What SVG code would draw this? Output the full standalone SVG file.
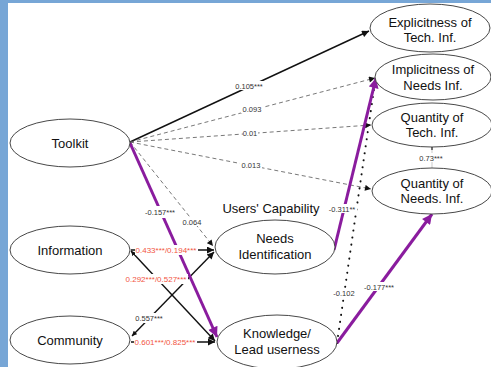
<svg xmlns="http://www.w3.org/2000/svg" width="491" height="367" viewBox="0 0 491 367">
  <style>
    .node ellipse { fill: #ffffff; stroke: #333333; stroke-width: 0.9; }
    .node text { font-family: "Liberation Sans", Arial, sans-serif; font-size: 13px; fill: #111111; text-anchor: middle; }
    .solid { fill: none; stroke: #111111; stroke-width: 1.4; }
    .dash { fill: none; stroke: #555555; stroke-width: 0.8; stroke-dasharray: 4 3; }
    .dot { fill: none; stroke: #111111; stroke-width: 2; stroke-dasharray: 0.1 7; stroke-linecap: round; }
    .purple { fill: none; stroke: #8a1c9e; stroke-width: 3; }
    .lbl rect { fill: #ffffff; }
    .lbl text { font-family: "Liberation Sans", Arial, sans-serif; font-size: 7.5px; fill: #333333; text-anchor: middle; }
    .lbl.red text { fill: #f2553f; font-size: 8px; }
    .title { font-family: "Liberation Sans", Arial, sans-serif; font-size: 13px; fill: #111111; text-anchor: middle; }
  </style>
  <defs>
    <marker id="arrow" viewBox="0 0 10 10" refX="10" refY="5" markerWidth="9" markerHeight="7" markerUnits="userSpaceOnUse" orient="auto">
      <path d="M0,0 L10,5 L0,10 z" fill="#111111"/>
    </marker>
    <marker id="arrowSmall" viewBox="0 0 10 10" refX="10" refY="5" markerWidth="7" markerHeight="6" markerUnits="userSpaceOnUse" orient="auto">
      <path d="M0,0 L10,5 L0,10 z" fill="#111111"/>
    </marker>
    <marker id="arrowTiny" viewBox="0 0 10 10" refX="10" refY="5" markerWidth="5" markerHeight="5" markerUnits="userSpaceOnUse" orient="auto-start-reverse">
      <path d="M0,0 L10,5 L0,10 z" fill="#111111"/>
    </marker>
    <marker id="arrowPurple" viewBox="0 0 10 10" refX="10" refY="5" markerWidth="13" markerHeight="10" markerUnits="userSpaceOnUse" orient="auto">
      <path d="M0,0 L10,5 L0,10 z" fill="#8a1c9e"/>
    </marker>
  </defs>

  <!-- page frame -->
  <rect x="0" y="0" width="491" height="367" fill="#ffffff"/>
  <rect x="0" y="0" width="491" height="3" fill="#77a6d6"/>
  <rect x="0" y="0" width="8" height="367" fill="#77a6d6"/>

  <!-- connectors -->
  <g id="connectors">
    <line class="solid" x1="130" y1="142" x2="369" y2="31" marker-end="url(#arrow)"/>
    <line class="dash" x1="130" y1="142" x2="375" y2="78" marker-end="url(#arrowSmall)"/>
    <line class="dash" x1="130" y1="142" x2="371" y2="125" marker-end="url(#arrowSmall)"/>
    <line class="dash" x1="130" y1="142" x2="371" y2="189" marker-end="url(#arrowSmall)"/>
    <line class="dash" x1="130" y1="142" x2="213" y2="246" marker-end="url(#arrowSmall)"/>

    <line class="solid" x1="131" y1="250" x2="214" y2="250" marker-end="url(#arrow)"/>
    <line class="solid" x1="131" y1="251" x2="215" y2="341" marker-start="url(#arrowTiny)" marker-end="url(#arrow)"/>
    <line class="solid" x1="132" y1="336" x2="214" y2="252" marker-start="url(#arrowTiny)" marker-end="url(#arrow)"/>
    <line class="solid" x1="131" y1="342" x2="215" y2="342" marker-end="url(#arrow)"/>

    <line class="purple" x1="130" y1="143" x2="217" y2="337" marker-end="url(#arrowPurple)"/>
    <line class="dot" x1="337" y1="343" x2="375" y2="82"/>
    <line class="purple" x1="334" y1="250" x2="376" y2="78" marker-end="url(#arrowPurple)"/>
    <line class="purple" x1="337" y1="343" x2="432" y2="214" marker-end="url(#arrowPurple)"/>

    <line x1="432" y1="147" x2="432" y2="168" stroke="#aaaaaa" stroke-width="0.6"/>
    <line x1="432" y1="147" x2="432" y2="150" stroke="#222222" stroke-width="1.2"/>
  </g>

  <!-- path coefficients -->
  <g id="labels">
    <g class="lbl"><rect x="233" y="81" width="32" height="9"/><text x="249" y="88.5">0.105***</text></g>
    <g class="lbl"><rect x="241" y="104" width="22" height="9"/><text x="252" y="111.5">0.093</text></g>
    <g class="lbl"><rect x="243" y="128" width="15" height="9"/><text x="250" y="135.5">0.01</text></g>
    <g class="lbl"><rect x="240" y="160" width="22" height="9"/><text x="251" y="167.5">0.013</text></g>
    <g class="lbl"><rect x="143" y="206" width="34" height="12"/><text x="160" y="215">-0.157***</text></g>
    <g class="lbl"><rect x="182" y="217" width="21" height="9"/><text x="192" y="224.5">0.064</text></g>
    <g class="lbl red"><rect x="135" y="245" width="63" height="10"/><text x="166" y="253">0.433***/0.194***</text></g>
    <g class="lbl red"><rect x="125" y="274" width="63" height="10"/><text x="156" y="282">0.292***/0.527***</text></g>
    <g class="lbl"><rect x="134" y="313" width="31" height="10"/><text x="149" y="320.5">0.557***</text></g>
    <g class="lbl red"><rect x="134" y="337" width="63" height="10"/><text x="165" y="345">0.601***/0.825***</text></g>
    <g class="lbl"><rect x="328" y="204" width="29" height="9"/><text x="342" y="211.5">-0.311**</text></g>
    <g class="lbl"><rect x="333" y="288" width="23" height="9"/><text x="344" y="295.5">-0.102</text></g>
    <g class="lbl"><rect x="363" y="282" width="33" height="9"/><text x="379" y="289.5">-0.177***</text></g>
    <g class="lbl"><rect x="421" y="153" width="22" height="9"/><text x="431" y="160.5">0.73***</text></g>
  </g>

  <text class="title" x="271" y="213">Users' Capability</text>

  <!-- exogenous constructs -->
  <g id="toolkit" class="node">
    <ellipse cx="70" cy="143" rx="60" ry="24"/>
    <text x="70" y="147.5">Toolkit</text>
  </g>
  <g id="information" class="node">
    <ellipse cx="70" cy="250" rx="60" ry="24"/>
    <text x="70" y="254.5">Information</text>
  </g>
  <g id="community" class="node">
    <ellipse cx="70" cy="340" rx="60" ry="24"/>
    <text x="70" y="344.5">Community</text>
  </g>

  <!-- users' capability -->
  <g id="needs-identification" class="node">
    <ellipse cx="275" cy="247" rx="60" ry="27"/>
    <text x="275" y="243">Needs</text>
    <text x="275" y="259">Identification</text>
  </g>
  <g id="knowledge" class="node">
    <ellipse cx="277" cy="342" rx="60" ry="27"/>
    <text x="277" y="338">Knowledge/</text>
    <text x="277" y="354">Lead userness</text>
  </g>

  <!-- outcome constructs -->
  <g id="explicitness" class="node">
    <ellipse cx="430" cy="28" rx="60" ry="24"/>
    <text x="430" y="26.5">Explicitness of</text>
    <text x="430" y="42">Tech. Inf.</text>
  </g>
  <g id="implicitness" class="node">
    <ellipse cx="433" cy="77" rx="58" ry="23"/>
    <text x="433" y="74">Implicitness of</text>
    <text x="433" y="89.5">Needs Inf.</text>
  </g>
  <g id="quantity-tech" class="node">
    <ellipse cx="432" cy="125" rx="60" ry="22"/>
    <text x="432" y="121.5">Quantity of</text>
    <text x="432" y="137">Tech. Inf.</text>
  </g>
  <g id="quantity-needs" class="node">
    <ellipse cx="432" cy="191" rx="60" ry="23"/>
    <text x="432" y="187.5">Quantity of</text>
    <text x="432" y="203">Needs. Inf.</text>
  </g>
</svg>
